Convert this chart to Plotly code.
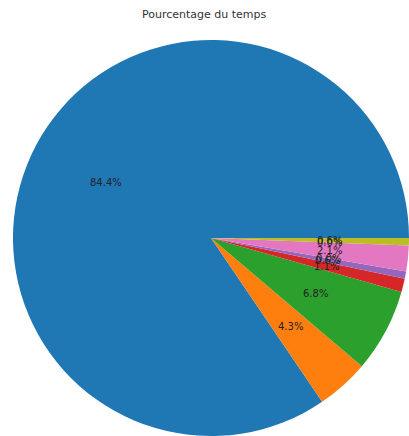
import math
import plotly.graph_objects as go

title = "Pourcentage du temps"
categories = ["A", "B", "C", "D", "E", "F", "G", "H", "I"]
values = [84.4, 4.3, 6.8, 1.1, 0.6, 0.0, 2.1, 0.0, 0.6]
colors = ["#1f77b4", "#ff7f0e", "#2ca02c", "#d62728", "#9467bd",
          "#8c564b", "#e377c2", "#7f7f7f", "#bcbd22"]

W, H = 409, 436
x0, x1 = 13, 409      # pixel extent of pie domain
y0, y1 = 40, 436
cx = (x0 + x1) / 2
cy = (y0 + y1) / 2
r = (x1 - x0) / 2

total = sum(values)
# plotly (counterclockwise) pins the first slice's clockwise-start at `rotation`;
# we want the first slice to start at 3 o'clock going counterclockwise.
rotation = 90 + 360 * (1 - values[0] / total)

fig = go.Figure(go.Pie(
    labels=categories, values=values, sort=False,
    direction="counterclockwise", rotation=rotation,
    marker=dict(colors=colors, line=dict(width=0)),
    textinfo="none", hoverinfo="label+percent", showlegend=False,
    domain=dict(x=[x0 / W, x1 / W], y=[1 - y1 / H, 1 - y0 / H]),
))

annotations = []
cum = 0.0
for v in values:
    mid = (cum + v / 2) / total * 2 * math.pi
    cum += v
    px = cx + 0.6 * r * math.cos(mid)
    py = cy - 0.6 * r * math.sin(mid)
    annotations.append(dict(
        x=px / W, y=1 - py / H, xref="paper", yref="paper",
        text=f"{v:.1f}%", showarrow=False,
        font=dict(family="DejaVu Sans", size=10, color="#222"),
        xanchor="center", yanchor="middle"))

annotations.append(dict(
    x=0.5, y=1 - 15 / H, xref="paper", yref="paper", text=title,
    showarrow=False, font=dict(family="DejaVu Sans", size=11, color="#333"),
    xanchor="center", yanchor="middle"))

fig.update_layout(
    width=W, height=H, margin=dict(l=0, r=0, t=0, b=0),
    paper_bgcolor="white", plot_bgcolor="white",
    annotations=annotations,
)

fig.write_html("out.html", config={"displayModeBar": False},
               post_script="document.body.style.margin='0';document.body.style.overflow='hidden';")
